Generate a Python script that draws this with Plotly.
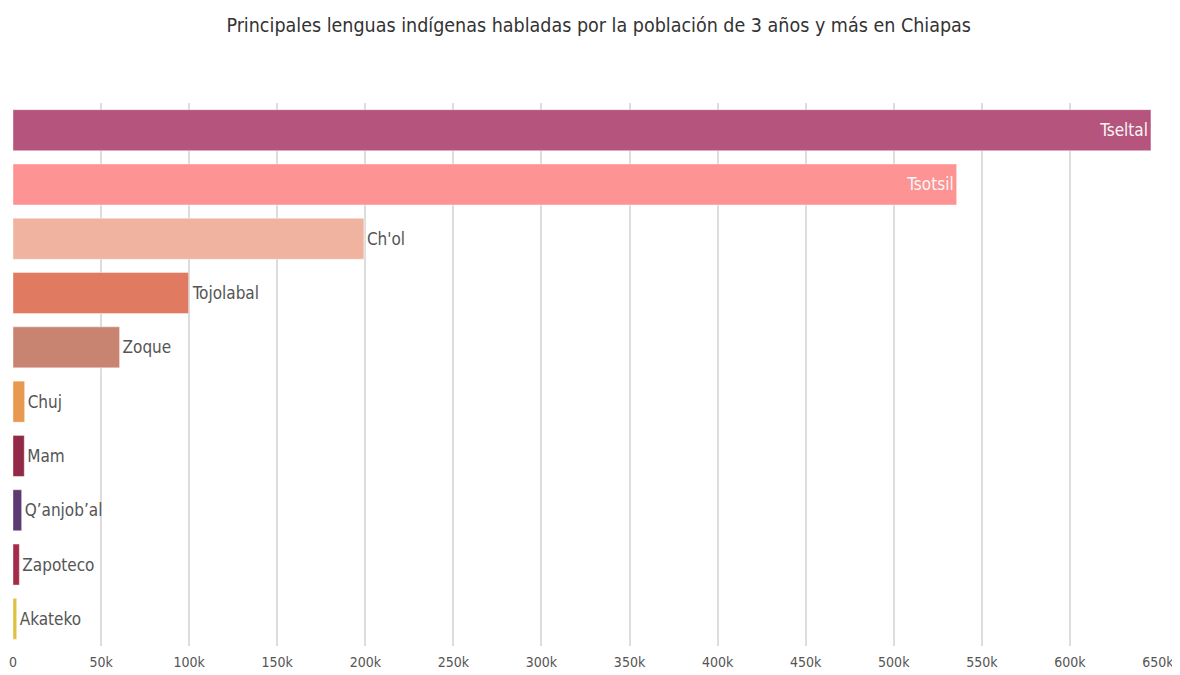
import plotly.graph_objects as go

lenguas = ["Tseltal", "Tsotsil", "Ch'ol", "Tojolabal", "Zoque", "Chuj", "Mam",
           "Q\u2019anjob\u2019al", "Zapoteco", "Akateko"]
hablantes = [646000, 535700, 199200, 99700, 60500, 6600, 6400, 4900, 3600, 2100]
colores = ["#b5547c", "#fe9393", "#efb3a0", "#e07a60", "#c88470", "#e8994f",
           "#922a47", "#5c3a74", "#a42c48", "#e0c040"]
posiciones = ["inside", "inside"] + ["outside"] * 8
tick_vals = [0, 50000, 100000, 150000, 200000, 250000, 300000, 350000, 400000,
             450000, 500000, 550000, 600000, 650000]
tick_text = ["0", "50k", "100k", "150k", "200k", "250k", "300k", "350k", "400k",
             "450k", "500k", "550k", "600k", "650k"]

FONT = "DejaVu Sans Condensed"

fig = go.Figure(go.Bar(
    x=hablantes, y=lenguas, orientation="h",
    marker=dict(color=colores, line=dict(color="rgba(255,255,255,0.4)", width=1)),
    text=lenguas, textposition=posiciones,
    insidetextanchor="end",
    insidetextfont=dict(color="#f7f7f7", size=17, family=FONT),
    outsidetextfont=dict(color="#555555", size=17, family=FONT),
    cliponaxis=False,
    hoverinfo="x+y",
))

fig.update_layout(
    width=1172, height=667,
    margin=dict(l=5, r=22, t=95, b=29),
    paper_bgcolor="white", plot_bgcolor="white",
    bargap=0.245,
    showlegend=False,
    title=dict(text="Principales lenguas indígenas habladas por la población de 3 años y más en Chiapas",
               x=0.504, xanchor="center", y=0.9745, yanchor="middle",
               font=dict(family=FONT, size=19.5, color="#333333")),
    font=dict(family=FONT, color="#555555"),
)
fig.update_xaxes(range=[0, 650000], tickvals=tick_vals, ticktext=tick_text,
                 showgrid=True, gridcolor="#dddddd", gridwidth=1.5,
                 zeroline=False, showline=False, automargin=False,
                 ticklabeloverflow="allow", ticklabelstandoff=6,
                 tickfont=dict(size=14, color="#555555", family=FONT))
fig.update_yaxes(autorange="reversed", showticklabels=False, showgrid=False,
                 zeroline=False, showline=False, automargin=False)

fig.write_html("out.html")
